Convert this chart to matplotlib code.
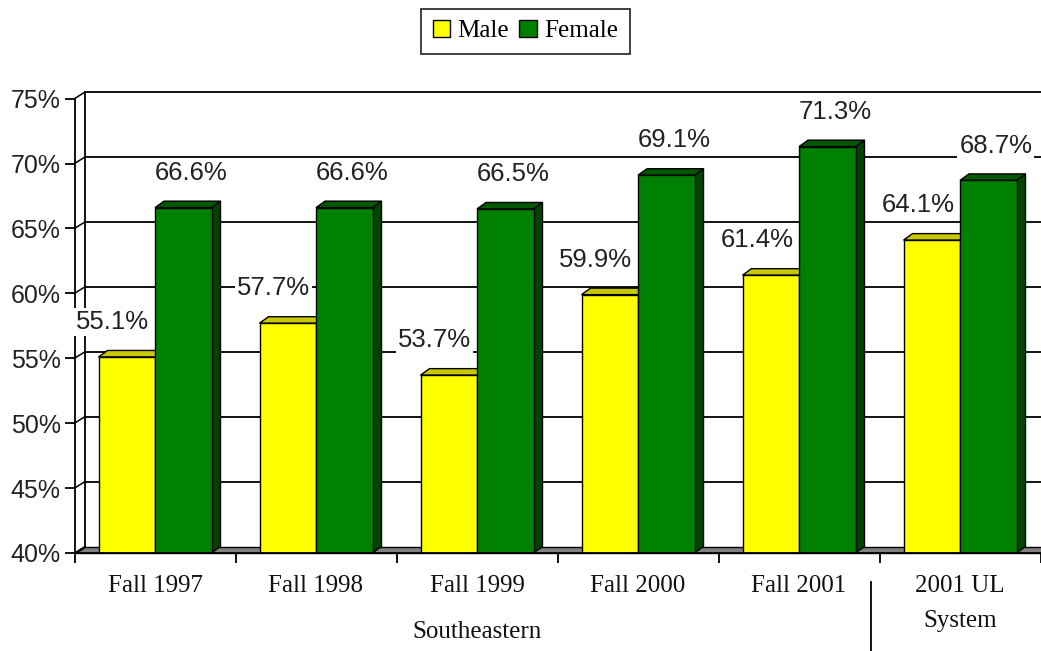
import matplotlib
matplotlib.use("Agg")
import matplotlib.pyplot as plt
from matplotlib.patches import Polygon, Patch
from matplotlib.lines import Line2D
import matplotlib.transforms as mtransforms

# ---- data ----
categories = ["Fall 1997", "Fall 1998", "Fall 1999", "Fall 2000", "Fall 2001", "2001 UL\nSystem"]
male = [55.1, 57.7, 53.7, 59.9, 61.4, 64.1]
female = [66.6, 66.6, 66.5, 69.1, 71.3, 68.7]
yticks = [40, 45, 50, 55, 60, 65, 70, 75]
group_label = "Southeastern"
series_names = ["Male", "Female"]

# ---- styles ----
W, H = 1041, 651
YEL, YEL_TOP = "#FFFF00", "#C8C800"
GRN, GRN_TOP, GRN_SIDE = "#008000", "#005800", "#004400"
FLOOR = "#808080"
SERIF = "Liberation Serif"
SANS = "Liberation Sans"

fig = plt.figure(figsize=(W / 100, H / 100), dpi=100)
ax_left_px, ax_right_px = 74.5, 74.5 + 6 * 161
ax_bot_px, ax_top_px = 553, 98.6
ax = fig.add_axes([ax_left_px / W, 1 - ax_bot_px / H,
                   (ax_right_px - ax_left_px) / W, (ax_bot_px - ax_top_px) / H])
n = len(categories)
ax.set_xlim(0, n)
ax.set_ylim(40, 75)

px_x = (ax_right_px - ax_left_px) / n          # pixels per x unit
px_y = (ax_bot_px - ax_top_px) / 35.0          # pixels per y unit
# depth offsets
wdx, wdy = 10.5 / px_x, 6.5 / px_y
bdx, bdy = 9.0 / px_x, 6.5 / px_y

for s in ["top", "right"]:
    ax.spines[s].set_visible(False)
ax.spines["left"].set_linewidth(1.3)
ax.spines["bottom"].set_linewidth(1.3)
ax.spines["left"].set_zorder(6)
ax.spines["bottom"].set_zorder(6)

# back wall gridlines and side wall
for v in yticks:
    if v > 40:
        ax.add_line(Line2D([wdx, n + 1], [v + wdy, v + wdy], color="black", lw=1.3,
                           zorder=1, clip_on=False))
    ax.add_line(Line2D([0, wdx], [v, v + wdy], color="black", lw=1.1, zorder=1, clip_on=False))
ax.add_line(Line2D([wdx, wdx], [40 + wdy, 75 + wdy], color="black", lw=1.3, zorder=1,
                   clip_on=False))

# floor
ax.add_patch(Polygon([(0, 40), (n + 1, 40), (n + 1, 40 + wdy), (wdx, 40 + wdy)],
                     closed=True, facecolor=FLOOR, edgecolor="black", lw=1.0, zorder=2,
                     clip_on=False))

# ticks
ax.set_yticks(yticks)
ax.set_yticklabels([f"{v}%" for v in yticks], fontfamily=SANS, fontsize=18, color="#222222")
ax.tick_params(axis="y", direction="out", length=7, width=1.3, pad=3)
ax.set_xticks(range(0, n + 1))
ax.set_xticklabels([])
ax.tick_params(axis="x", direction="out", length=7, width=1.3)

bw = 56.5 / px_x

def draw_bar(x0, h, face, top, side, z):
    x1 = x0 + bw
    ax.add_patch(Polygon([(x1, 40), (x1 + bdx, 40 + bdy), (x1 + bdx, h + bdy), (x1, h)],
                         closed=True, facecolor=side, edgecolor="black", lw=1.0, zorder=z))
    ax.add_patch(Polygon([(x0, h), (x1, h), (x1 + bdx, h + bdy), (x0 + bdx, h + bdy)],
                         closed=True, facecolor=top, edgecolor="black", lw=1.0, zorder=z))
    ax.bar(x0, h - 40, bottom=40, width=bw, align="edge", color=face, edgecolor="black",
           lw=1.0, zorder=z + 0.1)

for i in range(n):
    c = i + 0.5
    draw_bar(c - bw, male[i], YEL, YEL_TOP, YEL_TOP, 3)
    draw_bar(c, female[i], GRN, GRN_TOP, GRN_SIDE, 4)

# data labels
for i in range(n):
    c = i + 0.5
    for val, xc, dxpt in [(male[i], c - bw / 2, -10), (female[i], c + bw / 2, 5.5)]:
        ax.annotate(f"{val}%", xy=(xc, val), xytext=(dxpt, 25), textcoords="offset points",
                    ha="center", va="center", fontfamily=SANS, fontsize=18.5, color="#222222",
                    bbox=dict(boxstyle="square,pad=0.08", facecolor="white", edgecolor="none"),
                    zorder=8, annotation_clip=False)

# category labels
trans = mtransforms.blended_transform_factory(ax.transData, fig.transFigure)
for i, cat in enumerate(categories):
    ax.text(i + 0.5, 1 - 575 / H, cat, transform=trans, ha="center", va="top",
            fontfamily=SERIF, fontsize=18, linespacing=1.75, color="#111111")
ax.text(2.5, 1 - 632 / H, group_label, transform=trans, ha="center", va="center",
        fontfamily=SERIF, fontsize=18, color="#111111")
ax.add_line(Line2D([4.95, 4.95], [1 - 582 / H, 0], transform=trans, color="black", lw=1.3,
                   clip_on=False))

# legend
handles = [Patch(facecolor=YEL, edgecolor="black", lw=1.0),
           Patch(facecolor=GRN, edgecolor="black", lw=1.0)]
leg = fig.legend(handles, series_names, loc="center",
                 bbox_to_anchor=((423 + 628) / 2 / W, 1 - 31 / H), ncol=2, frameon=True,
                 fancybox=False, prop={"family": SERIF, "size": 18}, handlelength=0.7,
                 handleheight=0.7, handletextpad=0.3, columnspacing=0.4, borderpad=0.45,
                 borderaxespad=0)
leg.get_frame().set_edgecolor("black")
leg.get_frame().set_linewidth(1.3)

fig.savefig("out.png", dpi=100)
